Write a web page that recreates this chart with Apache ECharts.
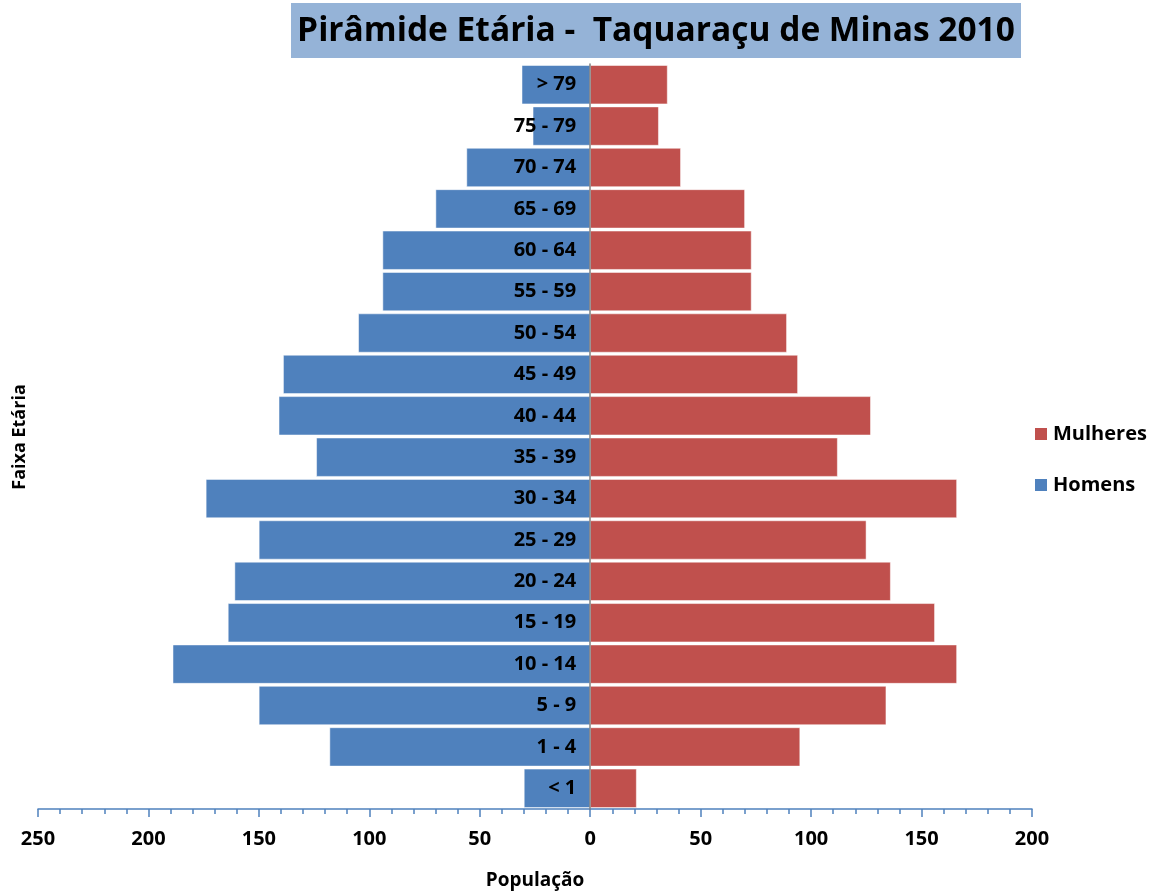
<!DOCTYPE html>
<html><head><meta charset="utf-8">
<script src="https://cdn.jsdelivr.net/npm/echarts@6/dist/echarts.min.js"></script>
<style>html,body{margin:0;padding:0;background:#fff}#c{width:1157px;height:893px}</style>
</head><body><div id="c"></div>
<script>
const categories = ['< 1','1 - 4','5 - 9','10 - 14','15 - 19','20 - 24','25 - 29','30 - 34','35 - 39','40 - 44','45 - 49','50 - 54','55 - 59','60 - 64','65 - 69','70 - 74','75 - 79','> 79'];
const homens   = [30,118,150,189,164,161,150,174,124,141,139,105,94,94,70,56,26,31];
const mulheres = [21,95,134,166,156,136,125,166,112,127,94,89,73,73,70,41,31,35];
const titleText = 'Pirâmide Etária -  Taquaraçu de Minas 2010';
const FONT = '"Open Sans", "Noto Sans", sans-serif';
const X_MIN = -250, X_MAX = 200;
const GRID = {left: 38, right: 125, top: 64, bottom: 84};
const gridWidth = 1157 - GRID.left - GRID.right;
const zeroOffset = gridWidth * (0 - X_MIN) / (X_MAX - X_MIN);

const chart = echarts.init(document.getElementById('c'));
chart.setOption({
  animation: false,
  textStyle: {fontFamily: FONT},
  grid: Object.assign({containLabel: false, outerBoundsMode: 'none'}, GRID),
  legend: {
    orient: 'vertical', left: 1033, top: 424, itemGap: 31, padding: 0,
    itemWidth: 14, itemHeight: 14, icon: 'rect',
    data: ['Mulheres', 'Homens'],
    textStyle: {fontSize: 20, fontWeight: 'bold', color: '#000', fontFamily: FONT}
  },
  xAxis: {
    type: 'value', min: X_MIN, max: X_MAX, interval: 50,
    name: 'População', nameLocation: 'middle', nameGap: 62,
    nameTextStyle: {fontSize: 19, fontWeight: 'bold', color: '#000'},
    axisLine: {show: true, lineStyle: {color: '#4f81bd', width: 1.5}},
    axisTick: {show: true, length: 8, lineStyle: {color: '#4f81bd', width: 1.5}},
    minorTick: {show: true, splitNumber: 5, length: 5, lineStyle: {color: '#4f81bd', width: 1.5}},
    splitLine: {show: false},
    axisLabel: {fontSize: 20, fontWeight: 'bold', color: '#000', margin: 20,
      formatter: v => String(Math.abs(v))}
  },
  yAxis: {
    type: 'category', data: categories, z: 10,
    position: 'left', offset: -zeroOffset,
    axisLine: {onZero: false, lineStyle: {color: '#808080', width: 1.5}},
    axisTick: {show: false},
    axisLabel: {fontSize: 20, fontWeight: 'bold', color: '#000', margin: 14}
  },
  series: [
    {name: 'Homens', type: 'bar', stack: 'p', data: homens.map(v => -v),
     barCategoryGap: '6%', itemStyle: {color: '#4f81bd', borderColor: '#ffffff', borderWidth: 0.5}},
    {name: 'Mulheres', type: 'bar', stack: 'p', data: mulheres,
     barCategoryGap: '6%', itemStyle: {color: '#c0504d', borderColor: '#ffffff', borderWidth: 0.5}}
  ],
  graphic: [
    {type: 'rect', left: 291, top: 3, shape: {width: 730, height: 55}, style: {fill: '#95b3d7'}, z: 0},
    {type: 'text', x: 656, y: 31, z: 1,
     style: {text: titleText, fill: '#000', font: 'bold 33.5px "Open Sans", "Noto Sans", sans-serif',
       align: 'center', verticalAlign: 'middle'}},
    {type: 'text', x: 20, y: 437, rotation: Math.PI / 2, z: 1,
     style: {text: 'Faixa Etária', fill: '#000', font: 'bold 18px "Open Sans", "Noto Sans", sans-serif',
       align: 'center', verticalAlign: 'middle'}}
  ]
});
</script></body></html>
